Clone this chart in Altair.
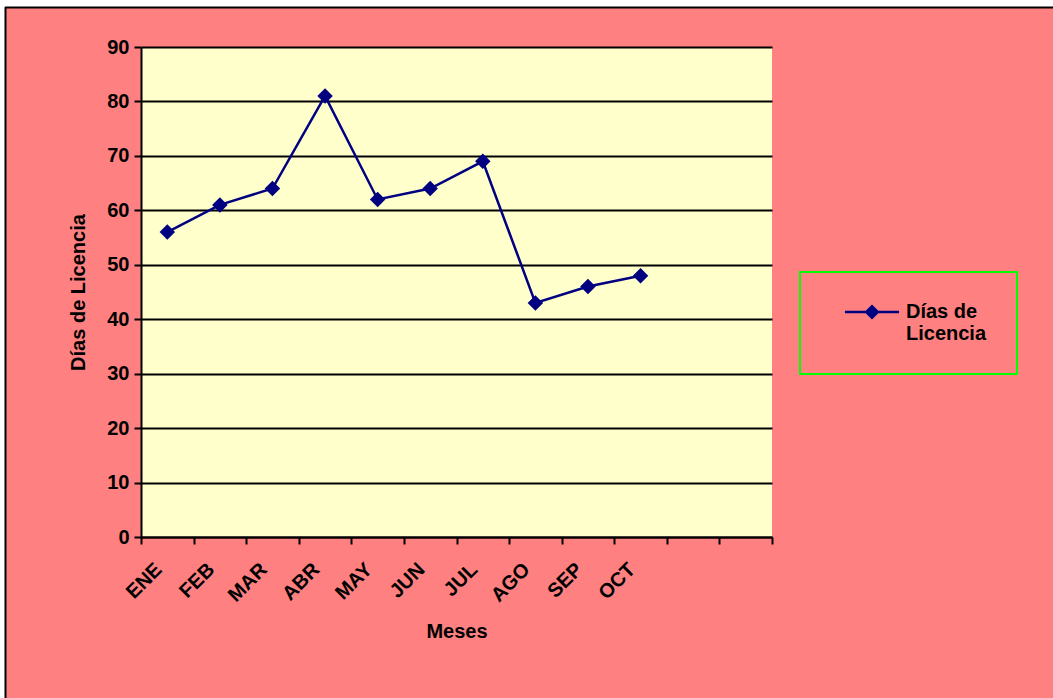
import altair as alt
import pandas as pd

meses = ["ENE", "FEB", "MAR", "ABR", "MAY", "JUN", "JUL", "AGO", "SEP", "OCT", "NOV", "DIC"]
dias = [56, 61, 64, 81, 62, 64, 69, 43, 46, 48]
serie = "Días de Licencia"
y_ticks = [0, 10, 20, 30, 40, 50, 60, 70, 80, 90]

df = pd.DataFrame({"Mes": meses[:len(dias)], "Dias": dias, "Serie": [serie] * len(dias)})
one = pd.DataFrame({"k": [0]})

FONT = "Liberation Sans"
FS = 20
NAVY = "#000080"
PINK = "#FF8080"

W, H = 631, 490
PAD_L, PAD_T = 141, 47
TOTAL_W, TOTAL_H = 1053, 698

x_enc = alt.X(
    "Mes:N",
    sort=meses,
    scale=alt.Scale(domain=meses, paddingInner=0, paddingOuter=0),
    axis=alt.Axis(
        title="Meses",
        labelAngle=-45,
        labelAlign="right",
        labelBaseline="middle",
        labelOffset=-9,
        labelPadding=22,
        labelExpr="datum.value == 'NOV' || datum.value == 'DIC' ? '' : datum.value",
        tickBand="extent",
        tickSize=7,
        tickWidth=2,
        tickColor="black",
        domainColor="black",
        domainWidth=2,
        grid=False,
        labelFont=FONT,
        labelFontSize=FS,
        labelFontWeight="bold",
        labelColor="black",
        titleFont=FONT,
        titleFontSize=FS,
        titleFontWeight="bold",
        titleColor="black",
        titleY=84,
        titleBaseline="top",
    ),
)

y_enc = alt.Y(
    "Dias:Q",
    scale=alt.Scale(domain=[0, 90], nice=False),
    axis=alt.Axis(
        title="Días de Licencia",
        values=y_ticks,
        grid=True,
        gridColor="black",
        gridWidth=2,
        gridOpacity=1,
        tickSize=7,
        tickWidth=2,
        tickColor="black",
        domainColor="black",
        domainWidth=2,
        labelPadding=5,
        labelFont=FONT,
        labelFontSize=FS,
        labelFontWeight="bold",
        labelColor="black",
        titleFont=FONT,
        titleFontSize=FS,
        titleFontWeight="bold",
        titleColor="black",
        titleAngle=-90,
        titleX=-63,
        titleY=H / 2,
        titleAlign="center",
        titleBaseline="middle",
    ),
)

# decorative page frame: white margin strips and black border line (outside the plot area)
strip_top = alt.Chart(one).mark_rect(fill="white").encode(
    x=alt.value(-PAD_L), x2=alt.value(TOTAL_W - PAD_L), y=alt.value(-PAD_T), y2=alt.value(-40)
)
strip_left = alt.Chart(one).mark_rect(fill="white").encode(
    x=alt.value(-PAD_L), x2=alt.value(-136), y=alt.value(-PAD_T), y2=alt.value(TOTAL_H - PAD_T)
)
border_top = alt.Chart(one).mark_rule(color="black", strokeWidth=2).encode(
    x=alt.value(-136), x2=alt.value(TOTAL_W - PAD_L), y=alt.value(-39.5)
)
border_left = alt.Chart(one).mark_rule(color="black", strokeWidth=2).encode(
    x=alt.value(-135.5), y=alt.value(-40), y2=alt.value(TOTAL_H - PAD_T)
)

line = alt.Chart(df).mark_line(color=NAVY, strokeWidth=2.5).encode(x=x_enc, y=y_enc)

# legend symbol: horizontal line with a diamond, r = sqrt(256)/2 = 8 px per unit
legend_path = (
    "M-3.375,-0.15L3.375,-0.15L3.375,0.15L-3.375,0.15Z "
    "M0,-0.95L0.95,0L0,0.95L-0.95,0Z"
)

points = alt.Chart(df).mark_point(
    shape="diamond", filled=True, size=240, opacity=1
).encode(
    x=x_enc,
    y=y_enc,
    color=alt.Color(
        "Serie:N",
        scale=alt.Scale(domain=[serie], range=[NAVY]),
        legend=alt.Legend(
            title=None,
            orient="none",
            legendX=659,
            legendY=225,
            padding=30,
            strokeColor="#00FF00",
            fillColor=PINK,
            symbolType=legend_path,
            symbolSize=256,
            symbolOffset=32,
            symbolOpacity=1,
            symbolFillColor=NAVY,
            symbolStrokeWidth=0,
            labelOffset=24,
            labelFont=FONT,
            labelFontSize=FS,
            labelFontWeight="bold",
            labelColor="black",
            labelLimit=400,
            labelExpr="['Días de', 'Licencia']",
        ),
    ),
)

chart = alt.layer(strip_top, strip_left, border_top, border_left, line, points).properties(
    width=W,
    height=H,
    autosize=alt.AutoSizeParams(type="none"),
    padding={"left": PAD_L, "top": PAD_T, "right": TOTAL_W - PAD_L - W, "bottom": TOTAL_H - PAD_T - H},
    background=PINK,
).configure_view(stroke=None, fill="#FFFFCC").configure_legend(strokeWidth=2)

chart.save("out.html", embed_options={"renderer": "svg", "actions": False})
